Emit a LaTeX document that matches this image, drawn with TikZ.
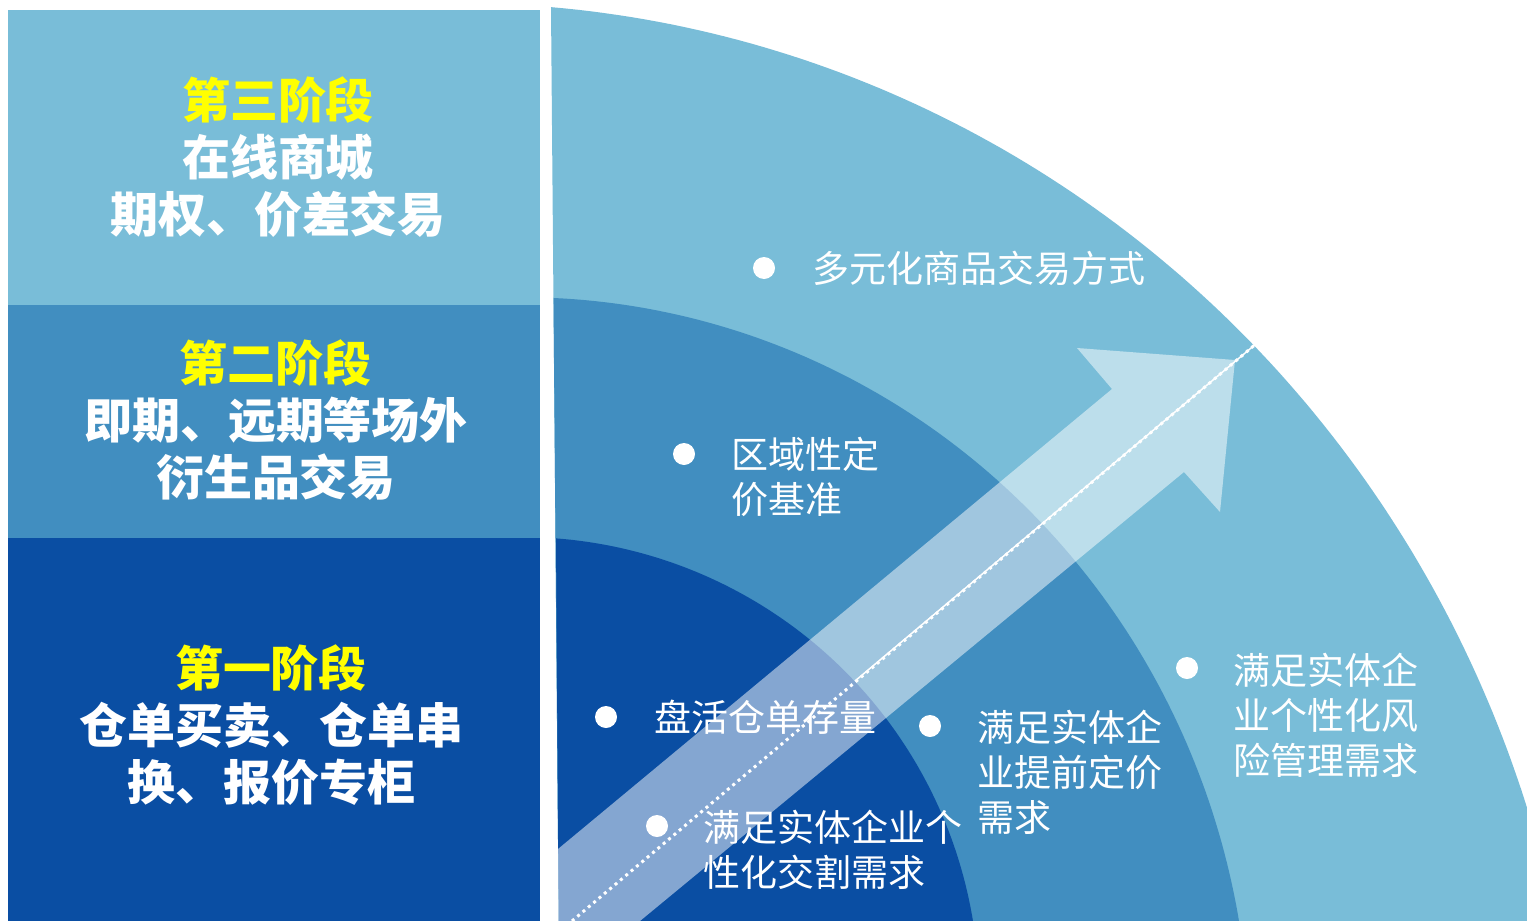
\documentclass[tikz,border=0pt]{standalone}
\usepackage{fontspec}
\newfontfamily\cjk{Noto Sans CJK SC}
\definecolor{lightb}{HTML}{79BDD8}
\definecolor{midb}{HTML}{418EC0}
\definecolor{darkb}{HTML}{0A4EA3}
\definecolor{yel}{HTML}{FFFF00}
\begin{document}
\begin{tikzpicture}[x=1pt,y=-1pt,
  stagetext/.style={text=white, align=center, font=\cjk\bfseries\fontsize{48}{57}\selectfont, inner sep=0pt},
  itemtext/.style={text=white, align=left, anchor=west, font=\cjk\fontsize{37}{45}\selectfont, inner sep=0pt},
  bullet/.style={circle, fill=white, minimum size=22pt, inner sep=0pt}]
\useasboundingbox (0,0) rectangle (1527,921);
\fill[white] (0,0) rectangle (1527,921);
% left panels
\fill[lightb] (8,10) rectangle (540,305);
\fill[midb] (8,305) rectangle (540,538);
\fill[darkb] (8,538) rectangle (540,921);
% right quarter
\begin{scope}
\clip (0,0) rectangle (1527,921);
\fill[lightb] (559,960) -- (551,7) -- plot[domain=-85.21:-3, samples=120, variable=\t] ({457+1125*cos(\t)}, {1167+1164*sin(\t)}) -- (1600,960) -- cycle;
\fill[midb] (559,960) -- (553.5,298) -- plot[domain=-87.46:-7, samples=100, variable=\t] ({521.2+728.6*cos(\t)}, {1049.9+752.7*sin(\t)}) -- (1260,960) -- cycle;
\fill[darkb] (559,960) -- (556,538) -- plot[domain=-85.62:-6, samples=80, variable=\t] ({521+458*cos(\t)}, {995+458*sin(\t)}) -- (990,960) -- cycle;
% arrow
\fill[white, opacity=0.5] (558,849) -- (1112,389) -- (1077,348) -- (1235,360) -- (1220,512) -- (1184,472) -- (640,921) -- (558,921) -- cycle;
\coordinate (ds) at (572,921);
\coordinate (dm) at (855,681);
\coordinate (de) at (1257,343);
\draw[white, line width=3pt, dash pattern=on 3pt off 4pt] (ds) -- (de);
\draw[white, line width=1.5pt] (dm) -- (de);
\end{scope}
% stage texts
\node[stagetext] (s3) at (278,157) {\textcolor{yel}{第三阶段}\\在线商城\\期权、价差交易};
\node[stagetext] (s2) at (276,420) {\textcolor{yel}{第二阶段}\\即期、远期等场外\\衍生品交易};
\node[stagetext] (s1) at (271,725) {\textcolor{yel}{第一阶段}\\仓单买卖、仓单串\\换、报价专柜};
% bullets
\node[bullet] (b1) at (764,268) {};
\node[bullet] (b2) at (684,454) {};
\node[bullet] (b3) at (606,717) {};
\node[bullet] (b4) at (657,826) {};
\node[bullet] (b5) at (930,726) {};
\node[bullet] (b6) at (1187,668) {};
% item texts
\node[itemtext] (t1) at (812,268) {多元化商品交易方式};
\node[itemtext] (t2) at (731,477) {区域性定\\价基准};
\node[itemtext] (t3) at (654,717) {盘活仓单存量};
\node[itemtext] (t4) at (703,850) {满足实体企业个\\性化交割需求};
\node[itemtext] (t5) at (977,772) {满足实体企\\业提前定价\\需求};
\node[itemtext] (t6) at (1233,715) {满足实体企\\业个性化风\\险管理需求};
\end{tikzpicture}
\end{document}
